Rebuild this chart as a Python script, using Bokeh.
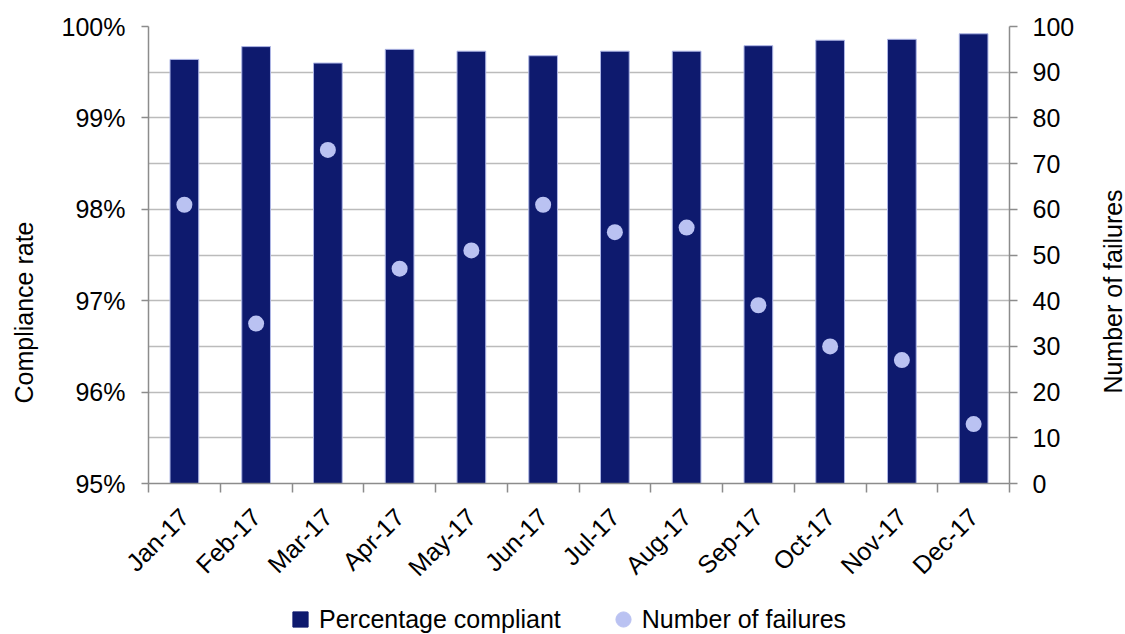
import math
from bokeh.plotting import figure
from bokeh.layouts import row, column
from bokeh.models import (Range1d, LinearAxis, FixedTicker, Legend, LegendItem,
                          ColumnDataSource, Label)
from bokeh.embed import file_html
from bokeh.resources import INLINE

# ---- data ----
months = ["Jan-17", "Feb-17", "Mar-17", "Apr-17", "May-17", "Jun-17",
          "Jul-17", "Aug-17", "Sep-17", "Oct-17", "Nov-17", "Dec-17"]
pct_compliant = [99.64, 99.78, 99.60, 99.75, 99.73, 99.68,
                 99.73, 99.73, 99.79, 99.85, 99.86, 99.92]
failures = [61, 35, 73, 47, 51, 61, 55, 56, 39, 30, 27, 13]
pct_ticks = [95, 96, 97, 98, 99, 100]
fail_ticks = [0, 10, 20, 30, 40, 50, 60, 70, 80, 90, 100]

FONT = "Liberation Sans"
NAVY = "#0E1A6E"
LAV = "#BAC2F2"
GRID = "#BBBBBB"
AXIS = "#8C8C8C"

# layout sizes (px)
W0, W2 = 48, 46          # side strips holding the axis titles
MAIN_W = 1125 - W0 - W2  # main plot
MAIN_H = 597
LEG_H = 37
FRAME_BOTTOM = 483       # frame bottom (strips share the main frame)

xs = list(range(1, len(months) + 1))
src = ColumnDataSource(dict(x=xs, month=months, pct=pct_compliant, fail=failures))

p = figure(width=MAIN_W, height=MAIN_H,
           x_range=Range1d(0.5, len(months) + 0.5), y_range=Range1d(95, 100),
           output_backend="svg", toolbar_location=None,
           min_border_left=100, min_border_right=MAIN_W - 100 - 861,
           min_border_top=26, min_border_bottom=114)
p.extra_y_ranges = {"fail": Range1d(0, 100)}
p.outline_line_color = None

bars = p.vbar(x="x", top="pct", bottom=95, width=0.4, source=src,
              fill_color=NAVY, line_color="#AEB6E6", line_width=1)
pts = p.scatter(x="x", y="fail", y_range_name="fail", source=src, size=16,
                fill_color=LAV, line_color=LAV, line_width=0)

# grid
p.xgrid.visible = False
p.ygrid.ticker = FixedTicker(ticks=[95 + 0.5 * i for i in range(11)])
p.ygrid.grid_line_color = GRID
p.ygrid.grid_line_width = 1.5

def style_axis(ax):
    ax.axis_line_color = AXIS
    ax.axis_line_width = 1.5
    ax.major_label_text_font = FONT
    ax.major_label_text_font_size = "25px"
    ax.major_label_text_color = "black"

# left axis
ya = p.yaxis[0]
style_axis(ya)
ya.ticker = FixedTicker(ticks=pct_ticks)
ya.major_label_overrides = {t: f"{t}%" for t in pct_ticks}
ya.major_tick_line_color = AXIS
ya.major_tick_line_width = 1.5
ya.major_tick_out = 7
ya.major_tick_in = 0
ya.minor_tick_line_color = None
ya.major_label_standoff = 16

# right axis
ra = LinearAxis(y_range_name="fail", ticker=FixedTicker(ticks=fail_ticks))
style_axis(ra)
ra.major_tick_line_color = AXIS
ra.major_tick_line_width = 1.5
ra.major_tick_out = 8
ra.major_tick_in = 0
ra.minor_tick_line_color = None
ra.major_label_standoff = 15
p.add_layout(ra, "right")

# x axis: labels at month centres, tick marks between months
xa = p.xaxis[0]
style_axis(xa)
xa.ticker = FixedTicker(ticks=xs, minor_ticks=[0.5 + i for i in range(len(months) + 1)])
xa.major_label_overrides = {x: m for x, m in zip(xs, months)}
xa.major_label_orientation = math.pi / 4
xa.major_tick_line_color = None
xa.major_tick_out = 0
xa.major_tick_in = 0
xa.minor_tick_line_color = AXIS
xa.minor_tick_line_width = 1.5
xa.minor_tick_out = 9
xa.minor_tick_in = 0
xa.major_label_standoff = 20

def strip(width, height):
    f = figure(width=width, height=height, min_border=0,
               x_range=Range1d(0, 1), y_range=Range1d(0, 1),
               x_axis_location=None, y_axis_location=None,
               output_backend="svg", toolbar_location=None)
    f.outline_line_color = None
    f.grid.visible = False
    return f

# axis titles (both read bottom-to-top); strip frames are aligned with the main frame
p0 = strip(W0, MAIN_H)
p0.add_layout(Label(x=23, y=FRAME_BOTTOM - 312, x_units="screen", y_units="screen",
                    text="Compliance rate", angle=math.pi / 2,
                    text_align="center", text_baseline="middle",
                    text_font=FONT, text_font_size="25px", text_color="black"))
p2 = strip(W2, MAIN_H)
p2.add_layout(Label(x=1112 - W0 - MAIN_W, y=FRAME_BOTTOM - 291, x_units="screen", y_units="screen",
                    text="Number of failures", angle=math.pi / 2,
                    text_align="center", text_baseline="middle",
                    text_font=FONT, text_font_size="25px", text_color="black"))

# legend strip
p3 = strip(1125, LEG_H)
sq3 = p3.scatter(x="x", y="pct", source=src, marker="square", size=16,
                 fill_color=NAVY, line_color=NAVY, visible=False)
pt3 = p3.scatter(x="x", y="fail", source=src, marker="circle", size=16,
                 fill_color=LAV, line_color=LAV, visible=False)
lg = Legend(items=[LegendItem(label="Percentage compliant", renderers=[sq3]),
                   LegendItem(label="Number of failures", renderers=[pt3])],
            location=(281, -4), orientation="horizontal")
lg.padding = 0
lg.margin = 0
lg.border_line_color = None
lg.background_fill_alpha = 0
lg.inactive_fill_alpha = 0
lg.label_text_font = FONT
lg.label_text_font_size = "25px"
lg.label_text_color = "black"
lg.glyph_width = 38
lg.glyph_height = 38
lg.label_standoff = -5
lg.spacing = 43
p3.add_layout(lg)

layout = column(row(p0, p, p2), p3)
open("out.html", "w").write(file_html(layout, INLINE))
